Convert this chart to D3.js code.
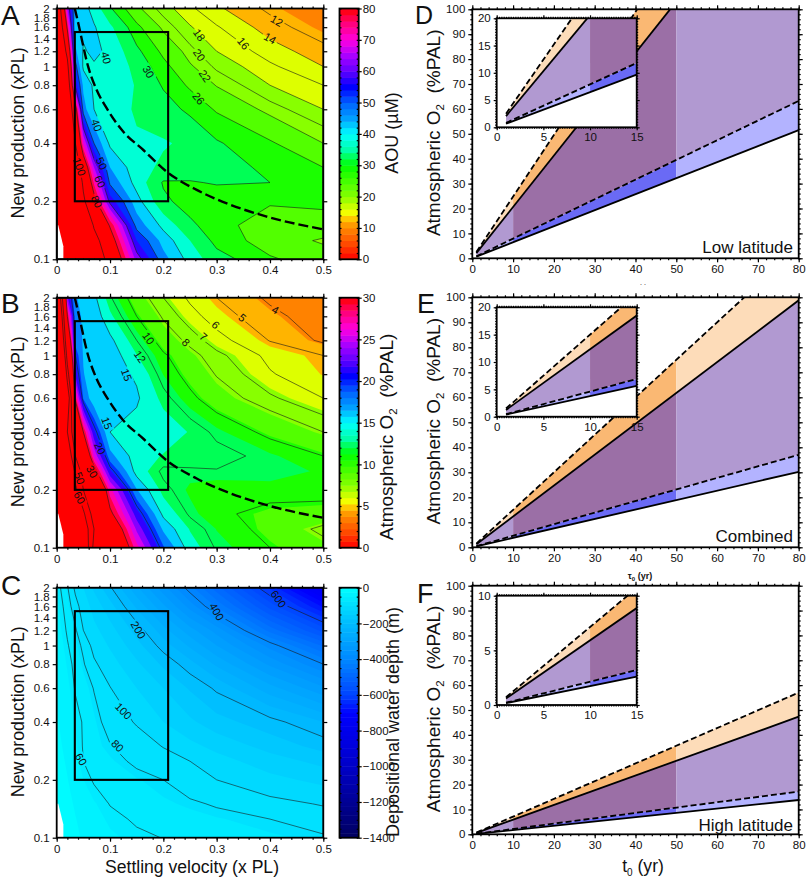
<!DOCTYPE html>
<html>
<head>
<meta charset="utf-8">
<script src="https://cdn.jsdelivr.net/npm/d3@7"></script>
<style>
  html, body { margin: 0; padding: 0; background: #fff; }
  text { font-family: "Liberation Sans", Arial, sans-serif; fill: #111; }
  .tick text { font-size: 11.5px; }
  .tick line { stroke: #000; stroke-width: 1.2; }
  .domain { display: none; }
</style>
</head>
<body>
<svg id="fig" width="807" height="884"></svg>
<script>
// 1: DATA
const velocityGrid = [0, 0.02, 0.035, 0.05, 0.07, 0.1, 0.15, 0.2, 0.25, 0.3, 0.4, 0.5];
const productionGrid = [2, 1.6, 1.2, 1, 0.8, 0.6, 0.4, 0.3, 0.25, 0.2, 0.15, 0.125, 0.1];

const aouRows = [
  [120, 65, 44, 42, 38, 30.5, 22.6, 19, 16.4, 14.4, 11.5, 9],
  [125, 78, 42, 41, 40.5, 36, 27, 21.3, 18.2, 16.2, 13, 10.5],
  [130, 95, 46, 39.5, 41, 39, 31, 25, 20.7, 18, 15, 12.8],
  [135, 105, 52, 39, 39.5, 40, 33, 27.3, 22.4, 19.5, 16.4, 14],
  [140, 115, 58, 44, 39, 39.5, 34.5, 29.5, 25.3, 21.8, 18, 16],
  [145, 120, 85, 47, 40, 37, 34.5, 32, 29, 25.5, 21, 18],
  [150, 130, 100, 70, 50, 39, 35.5, 35.5, 34, 30.5, 26.5, 22],
  [155, 140, 112, 90, 65, 45, 37, 34, 33.5, 32, 29, 26],
  [160, 145, 120, 97, 74, 49, 38, 29.5, 29.5, 30.5, 30, 28],
  [160, 150, 130, 103, 84, 58, 42, 31, 28, 26.5, 26.5, 26.8],
  [160, 155, 140, 125, 98, 79, 48, 38.5, 31, 27.5, 23.8, 24.5],
  [160, 155, 145, 130, 107, 86, 55, 43, 35, 28.5, 24, 21.5],
  [160, 158, 150, 138, 115, 93, 63, 47, 38, 32, 26.5, 24]
];
const o2Rows = [
  [80, 23, 17, 16.5, 15.5, 12.2, 8.8, 7, 5.8, 5, 3.8, 3],
  [90, 30, 17.5, 16.6, 16.3, 13.5, 10, 7.8, 6.4, 5.5, 4.3, 3.4],
  [100, 38, 18, 16.7, 16.6, 15.5, 12, 9, 7.6, 6.4, 4.95, 3.8],
  [110, 45, 20, 16.7, 16.7, 16.3, 13.2, 10.3, 8.5, 7.3, 5.7, 5],
  [120, 55, 22, 17, 15.5, 16, 14.7, 11.2, 9.2, 7.9, 6.1, 5.2],
  [130, 70, 29, 18.5, 15.5, 15.2, 15.3, 12.6, 10.5, 8.8, 7.2, 6],
  [130, 60, 42, 30, 21, 15, 14.2, 14.2, 13, 11.6, 9.4, 8],
  [130, 70, 50, 37, 26, 17.5, 14, 13, 13, 12.6, 11.5, 10],
  [130, 85, 57, 46, 32, 21, 14.2, 11.6, 11.7, 11.9, 12, 11],
  [130, 95, 62, 50, 39, 27, 17, 12.5, 11, 10.5, 10.6, 10.7],
  [130, 100, 80, 62, 45, 31, 21.5, 14.5, 11.7, 10.3, 9.5, 9.2],
  [130, 105, 85, 68, 50, 35, 24, 16.5, 13, 11.2, 9.3, 7.6],
  [130, 110, 90, 72, 47, 38, 27, 19, 14, 11.8, 10, 8.6]
];
const depthRows = [
  [50, 78, 105, 125, 155, 196, 270, 340, 415, 490, 630, 780],
  [45, 70, 92, 110, 135, 165, 230, 295, 360, 430, 560, 680],
  [40, 63, 77, 100, 118, 140, 185, 240, 290, 335, 460, 560],
  [36, 58, 72, 84, 108, 128, 165, 212, 255, 300, 385, 480],
  [32, 52, 66, 78, 96, 114, 145, 180, 215, 255, 330, 400],
  [28, 45, 62, 69, 81, 99, 125, 150, 178, 205, 265, 320],
  [22, 38, 52, 62, 73, 88, 102, 125, 145, 165, 190, 225],
  [18, 32, 46, 62, 71, 79, 90, 101, 118, 133, 160, 185],
  [16, 28, 42, 60, 66, 73, 84, 92, 100, 115, 138, 158],
  [13, 24, 37, 50, 63, 68, 74, 80, 91, 100, 118, 132],
  [10, 18, 28, 37, 48, 61, 68, 73, 77, 82, 92, 102],
  [9, 16, 24, 32, 42, 54, 63, 68, 71, 74, 80, 88],
  [8, 14, 20, 28, 36, 46, 56, 60.5, 64, 67, 73, 78]
];

const aouLevels = [12, 14, 16, 18, 20, 22, 26, 30, 40, 50, 60, 80, 100];
const o2Levels = [4, 5, 6, 7, 8, 10, 12, 15, 20, 30, 50, 60];
const depthLevels = [60, 80, 100, 200, 400, 600];

// [text, velocity, production, angle]
const aouLabels = [
  ["12", 0.4125, 1.726, 30], ["14", 0.4, 1.40, 30], ["16", 0.35, 1.317, 50], ["18", 0.267, 1.455, 55],
  ["20", 0.267, 1.146, 55], ["22", 0.278, 0.892, 55], ["26", 0.266, 0.683, 50], ["30", 0.172, 0.939, 60],
  ["40", 0.0925, 1.11, 75], ["40", 0.075, 0.497, 70], ["50", 0.084, 0.314, 65], ["60", 0.081, 0.253, 65],
  ["80", 0.075, 0.199, 65], ["100", 0.0425, 0.302, 70]
];
const o2Labels = [
  ["4", 0.41, 1.725, 30], ["5", 0.348, 1.574, 40], ["6", 0.298, 1.442, 45], ["7", 0.275, 1.253, 40],
  ["8", 0.2425, 1.171, 45], ["10", 0.172, 1.229, 55], ["12", 0.156, 0.986, 55], ["15", 0.131, 0.792, 70],
  ["15", 0.094, 0.444, 70], ["20", 0.081, 0.329, 65], ["30", 0.066, 0.2486, 60], ["50", 0.0425, 0.23, 70],
  ["60", 0.0425, 0.182, 60]
];
const depthLabels = [
  ["600", 0.416, 1.746, 55], ["400", 0.3, 1.5, 60], ["200", 0.153, 1.205, 60],
  ["100", 0.125, 0.456, 45], ["80", 0.114, 0.301, 45], ["60", 0.0456, 0.256, 60]
];

// thick dashed curve in A and B
const dashVelocity = [0.034, 0.0406, 0.059, 0.075, 0.094, 0.125, 0.1625, 0.206, 0.2625, 0.319, 0.394, 0.5];
const dashProduction = [2, 1.67, 0.998, 0.755, 0.606, 0.459, 0.369, 0.285, 0.229, 0.195, 0.1665, 0.143];

// box drawn on A, B, C
const boxVelocity = [0.034, 0.209];
const boxProduction = [0.2, 1.51];

// white notch in the lower left corner of the maps
const notchVelocity = [0, 0.003, 0.0125, 0.0125, 0];
const notchProduction = [0.15, 0.15, 0.117, 0.1, 0.1];

const productionTicks = [0.1, 0.2, 0.4, 0.6, 0.8, 1, 1.2, 1.4, 1.6, 1.8, 2];
const velocityTicks = [0, 0.1, 0.2, 0.3, 0.4, 0.5];

// fill band edges, in AOU units (B uses the same colours at 30/80 of these)
const aouBands = [0, 5, 8, 11, 14, 18, 22, 26, 30, 35, 40, 45, 50, 55, 60, 65, 70, 75, 80];

// right panels: oxygen at t0 for the four bounding lines
const t0Values = [1, 10, 15, 50, 80];
const lowSolid = { D: [0.65, 6.4, 9.66, 32.2, 51.5], E: [0.38, 3.8, 5.65, 18.9, 30.2], F: [0.17, 1.7, 2.6, 8.6, 13.8] };
const lowDashed = { D: [0.8, 7.9, 11.8, 39.3, 63.2], E: [0.46, 4.6, 6.9, 23.1, 37], F: [0.21, 2.15, 3.2, 10.7, 17.2] };
const highSolid = { D: [2.06, 20.6, 30.9, 103, 165], E: [1.24, 12.4, 18.5, 61.8, 98.8], F: [0.6, 5.9, 8.87, 29.6, 47.3] };
const highDashed = { D: [2.5, 24.8, 37.2, 124, 198], E: [1.5, 15, 22.5, 74.9, 120], F: [0.71, 7.1, 10.7, 35.6, 57] };
const shadeBreaks = [[1, 10, false], [10, 50, true], [50, 80, false]];

// 2: LAYOUT
const svg = d3.select("#fig");
const defs = svg.append("defs");

const mapX = [56.7, 323.3];
const barX = [339.5, 358.7];
const mapRows = { A: [8.5, 259.3], B: [297.7, 547.7], C: [587.7, 837.7] };
const lineX = [472.3, 798.7];
const lineRows = { D: [9.3, 258.3], E: [297.3, 547.3], F: [585.7, 834.3] };
const insetX = [496.7, 636.7];
const insetRows = { D: [18.3, 127.3], E: [307.3, 416.7], F: [595.7, 705] };

// 3: COLOUR SCALES
const rainbow = d3.scaleLinear()
  .domain([0, 0.0625, 0.125, 0.15625, 0.18, 0.25, 0.375, 0.4375, 0.5, 0.5625, 0.625, 0.6875, 0.75, 0.8125, 0.875, 0.9375, 1])
  .range(["#ff0000", "#ff4a00", "#ff8800", "#ffb400", "#ffff00", "#88ff00", "#00ff00", "#00ffaa", "#00ffff", "#00a0ff", "#0060ff",
          "#0000ff", "#6000ff", "#aa00ff", "#ff00e0", "#ff0080", "#ff0000"])
  .clamp(true);
const depthColor = d3.scaleLinear()
  .domain([0, 200, 400, 600, 700, 1000, 1400])
  .range(["#00ffff", "#00bbff", "#0088ff", "#0044ff", "#0000ff", "#0000c8", "#000060"])
  .clamp(true);

// 4: HELPERS
function addText(x, y, str, size, anchor, rotate, weight) {
  const t = svg.append("text")
    .attr("text-anchor", anchor || "start")
    .attr("font-size", size)
    .attr("font-weight", weight || "normal");
  if (rotate) t.attr("transform", `translate(${x},${y}) rotate(${rotate})`);
  else t.attr("x", x).attr("y", y);
  t.text(str);
  return t;
}

function o2Title(x, y, size) {
  const t = svg.append("text")
    .attr("transform", `translate(${x},${y}) rotate(-90)`)
    .attr("text-anchor", "middle")
    .attr("font-size", size)
    .attr("xml:space", "preserve");
  t.append("tspan").text("Atmospheric O");
  t.append("tspan").attr("font-size", size * 0.6).attr("dy", 4).text("2");
  t.append("tspan").attr("dy", -4).text("\u00a0 (%PAL)");
}

function drawAxis(g, axis) {
  g.call(axis);
  g.select(".domain").remove();
}

function frameTicks(xScale, yScale, box, xMajor, xMinor, yMajor, yMinor, xFmt, yFmt, majorLen, minorLen) {
  const [x0, x1] = xScale.range();
  const [y1, y0] = yScale.range();
  const place = (side, scale, values, len, fmt) => {
    const ax = side(scale).tickValues(values).tickSize(len).tickSizeOuter(0).tickFormat(fmt || "");
    const tr = side === d3.axisBottom ? [0, y1] : side === d3.axisTop ? [0, y0] : side === d3.axisLeft ? [x0, 0] : [x1, 0];
    drawAxis(svg.append("g").attr("transform", `translate(${tr})`), ax);
  };
  if (xMinor) { place(d3.axisBottom, xScale, xMinor, minorLen); place(d3.axisTop, xScale, xMinor, minorLen); }
  if (yMinor) { place(d3.axisLeft, yScale, yMinor, minorLen); place(d3.axisRight, yScale, yMinor, minorLen); }
  place(d3.axisBottom, xScale, xMajor, majorLen, xFmt);
  place(d3.axisTop, xScale, xMajor, majorLen);
  place(d3.axisLeft, yScale, yMajor, majorLen, yFmt);
  place(d3.axisRight, yScale, yMajor, majorLen);
  svg.append("rect").attr("x", x0).attr("y", y0).attr("width", x1 - x0).attr("height", y1 - y0)
    .attr("fill", "none").attr("stroke", "#000").attr("stroke-width", box);
}

// 5: CONTOUR MAPS A, B, C
function drawMap(id, rows, thresholds, fillFor, levels, labels, withDash) {
  const [top, bottom] = mapRows[id];
  const x = d3.scaleLinear().domain([0, 0.5]).range(mapX);
  const y = d3.scaleLog().domain([0.1, 2]).range([bottom, top]);

  // grid index -> data value, grid nodes sit at i + 0.5 in d3.contours space
  const colToV = d3.scaleLinear().domain(velocityGrid.map((_, i) => i + 0.5)).range(velocityGrid).clamp(true);
  const rowToLog = d3.scaleLinear().domain(productionGrid.map((_, i) => i + 0.5))
    .range(productionGrid.map(p => Math.log10(p))).clamp(true);
  const path = d3.geoPath(d3.geoTransform({
    point(px, py) { this.stream.point(x(colToV(px)), y(Math.pow(10, rowToLog(py)))); }
  }));

  const nx = velocityGrid.length, ny = productionGrid.length;
  const flat = rows.flat();
  const contours = d3.contours().size([nx, ny]).smooth(true);

  defs.append("clipPath").attr("id", "clip" + id).append("rect")
    .attr("x", mapX[0]).attr("y", top).attr("width", mapX[1] - mapX[0]).attr("height", bottom - top);

  const g = svg.append("g").attr("clip-path", `url(#clip${id})`);
  g.append("rect").attr("x", mapX[0]).attr("y", top).attr("width", mapX[1] - mapX[0]).attr("height", bottom - top)
    .attr("fill", fillFor(thresholds[0], thresholds[1]));

  g.selectAll(".band")
    .data(thresholds.slice(1).map((t, i) => [t, thresholds[i + 2] === undefined ? t : thresholds[i + 2]]))
    .join("path")
    .attr("class", "band")
    .attr("d", d => path(contours.thresholds([d[0]])(flat)[0]))
    .attr("fill", d => fillFor(d[0], d[1]));

  // white notch
  g.append("path")
    .datum(notchVelocity.map((v, i) => [x(v), y(notchProduction[i])]))
    .attr("d", d3.line())
    .attr("fill", "#fff");

  // contour lines, broken under their labels
  const mask = defs.append("mask").attr("id", "gap" + id).attr("maskUnits", "userSpaceOnUse")
    .attr("x", 0).attr("y", 0).attr("width", 807).attr("height", 884);
  mask.append("rect").attr("width", 807).attr("height", 884).attr("fill", "#fff");
  labels.forEach(d => {
    const w = d[0].length * 6 + 4;
    mask.append("rect").attr("x", -w / 2).attr("y", -5).attr("width", w).attr("height", 10)
      .attr("transform", `translate(${x(d[1])},${y(d[2])}) rotate(${d[3]})`).attr("fill", "#000");
  });
  g.append("g").attr("mask", `url(#gap${id})`)
    .selectAll("path")
    .data(levels)
    .join("path")
    .attr("d", lev => path(contours.thresholds([lev])(flat)[0]))
    .attr("fill", "none")
    .attr("stroke", "#1a1a1a")
    .attr("stroke-width", 0.6);

  labels.forEach(d => {
    svg.append("text")
      .attr("transform", `translate(${x(d[1])},${y(d[2])}) rotate(${d[3]})`)
      .attr("text-anchor", "middle")
      .attr("dy", "0.35em")
      .attr("font-size", 11)
      .text(d[0]);
  });

  if (withDash) {
    svg.append("path")
      .datum(dashVelocity.map((v, i) => [v, dashProduction[i]]))
      .attr("d", d3.line().x(d => x(d[0])).y(d => y(d[1])).curve(d3.curveMonotoneX))
      .attr("fill", "none")
      .attr("stroke", "#000")
      .attr("stroke-width", 2.4)
      .attr("stroke-dasharray", "10 4");
  }

  svg.append("rect")
    .attr("x", x(boxVelocity[0])).attr("y", y(boxProduction[1]))
    .attr("width", x(boxVelocity[1]) - x(boxVelocity[0]))
    .attr("height", y(boxProduction[0]) - y(boxProduction[1]))
    .attr("fill", "none").attr("stroke", "#000").attr("stroke-width", 2.1);

  frameTicks(x, y, 1.8, velocityTicks, d3.range(0, 0.501, 0.02), productionTicks, null,
    d => d === 0 ? "0" : d3.format(".1f")(d), d => String(d), 4, 2);

  addText(24, (top + bottom) / 2 - 1, "New production (xPL)", 17.8, "middle", -90);
}

function drawBar(id, domain, step, colorOf, ticks, minor, fmt) {
  const [top, bottom] = mapRows[id];
  const y = d3.scaleLinear().domain(domain).range([bottom, top]);
  const lo = Math.min(domain[0], domain[1]), hi = Math.max(domain[0], domain[1]);
  svg.append("g").selectAll("rect")
    .data(d3.range(lo, hi, step))
    .join("rect")
    .attr("x", barX[0])
    .attr("width", barX[1] - barX[0])
    .attr("y", d => Math.min(y(d), y(d + step)))
    .attr("height", d => Math.abs(y(d) - y(d + step)) + 0.5)
    .attr("fill", d => colorOf(d + step / 2));

  drawAxis(svg.append("g").attr("transform", `translate(${barX[1]},0)`),
    d3.axisLeft(y).tickValues(minor).tickSize(2).tickFormat(""));
  drawAxis(svg.append("g").attr("transform", `translate(${barX[0]},0)`),
    d3.axisRight(y).tickValues(minor).tickSize(2).tickFormat(""));
  drawAxis(svg.append("g").attr("transform", `translate(${barX[1]},0)`),
    d3.axisRight(y).tickValues(ticks).tickSize(3).tickPadding(1).tickFormat(fmt));
  svg.append("rect").attr("x", barX[0]).attr("y", top).attr("width", barX[1] - barX[0]).attr("height", bottom - top)
    .attr("fill", "none").attr("stroke", "#000").attr("stroke-width", 1.8);
}

const o2Bands = aouBands.map(d => d * 30 / 80);
const depthSteps = d3.range(0, 1425, 25);

drawMap("A", aouRows, aouBands, (a, b) => rainbow((a + b) / 2 / 80), aouLevels, aouLabels, true);
drawMap("B", o2Rows, o2Bands, (a, b) => rainbow((a + b) / 2 / 30), o2Levels, o2Labels, true);
drawMap("C", depthRows, depthSteps, (a, b) => depthColor((a + b) / 2), depthLevels, depthLabels, false);

drawBar("A", [0, 80], 2, v => rainbow(v / 80), d3.range(0, 81, 10), d3.range(0, 81, 2), d3.format("d"));
drawBar("B", [0, 30], 0.75, v => rainbow(v / 30), d3.range(0, 31, 5), d3.range(0, 31, 1), d3.format("d"));
drawBar("C", [-1400, 0], 25, v => depthColor(-v), d3.range(-1400, 1, 200), d3.range(-1400, 1, 50),
  d => d === 0 ? "0" : "\u2212" + Math.abs(d));

addText(398, 133, "AOU (\u00b5M)", 18, "middle", -90);
o2Title(393, 437, 19);
addText(399, 722, "Depositional water depth (m)", 18, "middle", -90);
addText(192, 873, "Settling velocity (x PL)", 17.6, "middle");

// 6: LINE PANELS D, E, F
function lineAt(arr) { return d3.scaleLinear().domain(t0Values).range(arr); }

function drawShades(g, x, y, id, xMax) {
  const low = lineAt(lowSolid[id]), lowD = lineAt(lowDashed[id]), high = lineAt(highSolid[id]), highD = lineAt(highDashed[id]);
  const bands = [
    [low, lowD, "#b3b3ff", "#6a6af5"],
    [lowD, high, "#b199d1", "#9b6fa6"],
    [high, highD, "#fddcb9", "#fab873"]
  ];
  bands.forEach(([lo, hi, pale, deep]) => {
    shadeBreaks.forEach(([a, b, dark]) => {
      if (a >= xMax) return;
      const end = Math.min(b, xMax);
      g.append("path")
        .datum([a, end])
        .attr("d", d3.area().x(d => x(d)).y0(d => y(lo(d))).y1(d => y(hi(d))))
        .attr("fill", dark ? deep : pale);
    });
  });
  [[low, null], [lowD, "6 3"], [high, null], [highD, "6 3"]].forEach(([fn, dash]) => {
    g.append("path")
      .datum([1, xMax])
      .attr("d", d3.line().x(d => x(d)).y(d => y(fn(d))))
      .attr("fill", "none")
      .attr("stroke", "#000")
      .attr("stroke-width", 1.8)
      .attr("stroke-dasharray", dash);
  });
}

function drawLinePanel(id, insetMax, insetTicks, insetMinor, note, noteBase) {
  const [top, bottom] = lineRows[id];
  const x = d3.scaleLinear().domain([0, 80]).range(lineX);
  const y = d3.scaleLinear().domain([0, 100]).range([bottom, top]);
  defs.append("clipPath").attr("id", "clip" + id).append("rect")
    .attr("x", lineX[0]).attr("y", top).attr("width", lineX[1] - lineX[0]).attr("height", bottom - top);
  drawShades(svg.append("g").attr("clip-path", `url(#clip${id})`), x, y, id, 80);
  frameTicks(x, y, 1.8, d3.range(0, 81, 10), d3.range(0, 81, 2), d3.range(0, 101, 10), d3.range(0, 101, 2),
    d3.format("d"), d3.format("d"), 4, 2);

  // inset
  const [iTop, iBottom] = insetRows[id];
  const ix = d3.scaleLinear().domain([0, 15]).range(insetX);
  const iy = d3.scaleLinear().domain([0, insetMax]).range([iBottom, iTop]);
  svg.append("rect").attr("x", insetX[0]).attr("y", iTop).attr("width", insetX[1] - insetX[0]).attr("height", iBottom - iTop)
    .attr("fill", "#fff");
  defs.append("clipPath").attr("id", "inset" + id).append("rect")
    .attr("x", insetX[0]).attr("y", iTop).attr("width", insetX[1] - insetX[0]).attr("height", iBottom - iTop);
  drawShades(svg.append("g").attr("clip-path", `url(#inset${id})`), ix, iy, id, 15);
  frameTicks(ix, iy, 1.8, d3.range(0, 16, 5), d3.range(0, 15.01, 0.25), insetTicks, insetMinor,
    d3.format("d"), d3.format("d"), 3, 1.5);

  addText(793, noteBase, note, 17, "end");
  o2Title(440, (top + bottom) / 2 - 1, 19);
}

drawLinePanel("D", 20, d3.range(0, 21, 5), d3.range(0, 20.01, 0.5), "Low latitude", 253);
drawLinePanel("E", 20, d3.range(0, 21, 5), d3.range(0, 20.01, 0.5), "Combined", 541.7);
drawLinePanel("F", 10, d3.range(0, 11, 5), d3.range(0, 10.01, 0.25), "High latitude", 831);

const t0 = svg.append("text").attr("x", 643).attr("y", 872).attr("text-anchor", "middle").attr("font-size", 17.6);
t0.append("tspan").text("t");
t0.append("tspan").attr("font-size", 10).attr("dy", 4).text("0");
t0.append("tspan").attr("dy", -4).text(" (yr)");

// leftover caption fragments on the sheet
const tau = svg.append("text").attr("x", 640).attr("y", 579).attr("text-anchor", "middle").attr("font-size", 9).attr("font-weight", "bold");
tau.append("tspan").text("\u03c4");
tau.append("tspan").attr("font-size", 6).attr("dy", 2).text("0");
tau.append("tspan").attr("dy", -2).text(" (yr)");
addText(643, 285, ". .", 7, "middle");

// 7: PANEL LETTERS
[["A", 1, 25, 28], ["B", 1, 313, 28], ["C", 1, 595, 28], ["D", 415, 24, 25], ["E", 417, 313, 27], ["F", 417, 603, 27]]
  .forEach(d => addText(d[1], d[2], d[0], d[3]));
</script>
</body>
</html>
